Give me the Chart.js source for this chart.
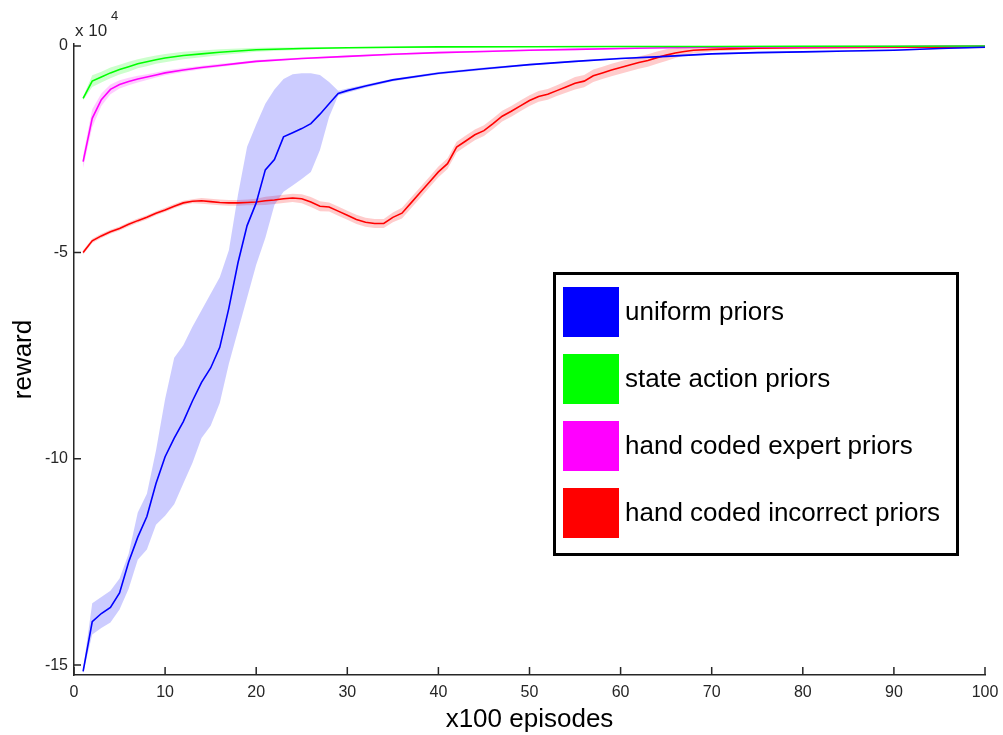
<!DOCTYPE html>
<html>
<head>
<meta charset="utf-8">
<script src="https://cdn.jsdelivr.net/npm/chart.js@4.4.1/dist/chart.umd.min.js"></script>
<style>
  html, body { margin: 0; padding: 0; background: #fff; }
  #wrap { width: 1003px; height: 735px; position: relative; }
</style>
</head>
<body>
<div id="wrap"><canvas id="c"></canvas></div>
<script>
// ---- data (reward in units of 1e4) ----
const seriesLabels = ['uniform priors', 'state action priors', 'hand coded expert priors', 'hand coded incorrect priors'];
const xTicks = [0, 10, 20, 30, 40, 50, 60, 70, 80, 90, 100];
const yTicks = [0, -5, -10, -15];

const blueX = [1,2,3,4,5,6,7,8,9,10,11,12,13,14,15,16,17,18,19,20,21,22,23,24,25,26,27,28,29,30,32,35,40,45,50,55,60,65,70,75,80,85,90,95,100];
const blueMean = [-15.15,-13.95,-13.75,-13.6,-13.25,-12.5,-11.9,-11.4,-10.6,-9.95,-9.5,-9.1,-8.6,-8.15,-7.8,-7.3,-6.35,-5.25,-4.35,-3.8,-3.0,-2.75,-2.2,-2.1,-2.0,-1.88,-1.65,-1.4,-1.15,-1.08,-0.97,-0.82,-0.66,-0.55,-0.45,-0.37,-0.3,-0.25,-0.19,-0.16,-0.14,-0.12,-0.1,-0.06,-0.03];
const blueUpper = [-15.1,-13.5,-13.35,-13.2,-12.9,-12.3,-11.3,-10.85,-9.8,-8.55,-7.55,-7.25,-6.8,-6.4,-6.0,-5.6,-4.95,-3.6,-2.44,-1.9,-1.4,-1.05,-0.8,-0.68,-0.66,-0.66,-0.7,-0.87,-1.08,-1.03,-0.93,-0.79,-0.63,-0.52,-0.43,-0.35,-0.28,-0.23,-0.17,-0.14,-0.12,-0.1,-0.08,-0.04,-0.02];
const blueLower = [-15.2,-14.26,-14.1,-13.97,-13.65,-13.15,-12.45,-12.2,-11.6,-11.38,-11.1,-10.6,-10.1,-9.5,-9.2,-8.65,-7.7,-6.9,-6.1,-5.3,-4.65,-3.85,-3.53,-3.38,-3.22,-3.05,-2.52,-1.72,-1.2,-1.13,-1.01,-0.85,-0.69,-0.58,-0.47,-0.39,-0.32,-0.27,-0.21,-0.18,-0.16,-0.14,-0.12,-0.08,-0.04];

const greenX = [1,2,3,4,5,6,7,8,9,10,12,14,16,18,20,25,30,35,40,50,60,70,80,90,100];
const greenMean = [-1.27,-0.85,-0.75,-0.65,-0.57,-0.5,-0.43,-0.38,-0.33,-0.29,-0.23,-0.19,-0.15,-0.12,-0.09,-0.06,-0.04,-0.03,-0.02,-0.015,-0.01,-0.01,-0.005,-0.005,0];
const greenErr = [0.04,0.14,0.13,0.13,0.12,0.12,0.11,0.11,0.1,0.1,0.09,0.08,0.07,0.06,0.05,0.03,0.02,0.02,0.02,0.01,0.01,0.01,0.01,0.01,0.01];

const magX = [1,2,3,4,5,6,7,8,9,10,12,14,16,18,20,25,30,35,40,45,50,55,60,65,70,80,90,100];
const magMean = [-2.8,-1.75,-1.3,-1.05,-0.93,-0.86,-0.8,-0.75,-0.7,-0.65,-0.58,-0.52,-0.47,-0.42,-0.37,-0.3,-0.25,-0.2,-0.16,-0.13,-0.1,-0.08,-0.06,-0.04,-0.03,-0.02,-0.01,0];
const magErr = [0.15,0.22,0.15,0.12,0.1,0.09,0.08,0.07,0.06,0.06,0.05,0.04,0.04,0.03,0.03,0.02,0.02,0.02,0.02,0.02,0.02,0.02,0.02,0.02,0.01,0.01,0.01,0.01];

const redX = [1,2,3,4,5,6,7,8,9,10,11,12,13,14,15,16,17,18,19,20,21,22,23,24,25,26,27,28,29,30,31,32,33,34,35,36,37,38,39,40,41,42,43,44,45,46,47,48,49,50,51,52,53,54,55,56,57,58,59,60,61,62,63,64,65,66,67,68,70,75,80,85,90,95,100];
const redMean = [-5.0,-4.72,-4.6,-4.5,-4.42,-4.32,-4.23,-4.15,-4.05,-3.97,-3.88,-3.8,-3.76,-3.75,-3.77,-3.79,-3.8,-3.8,-3.79,-3.78,-3.75,-3.73,-3.7,-3.68,-3.7,-3.78,-3.88,-3.9,-4.0,-4.1,-4.2,-4.27,-4.3,-4.3,-4.15,-4.05,-3.8,-3.55,-3.3,-3.05,-2.85,-2.45,-2.3,-2.15,-2.05,-1.88,-1.7,-1.58,-1.45,-1.32,-1.22,-1.17,-1.08,-0.99,-0.9,-0.85,-0.72,-0.65,-0.58,-0.52,-0.46,-0.4,-0.35,-0.28,-0.22,-0.17,-0.13,-0.1,-0.08,-0.05,-0.04,-0.035,-0.03,-0.025,-0.02];
const redErr = [0.05,0.05,0.05,0.05,0.05,0.05,0.05,0.05,0.05,0.05,0.05,0.05,0.05,0.07,0.07,0.07,0.07,0.07,0.07,0.08,0.1,0.1,0.1,0.1,0.11,0.12,0.12,0.11,0.11,0.11,0.11,0.11,0.11,0.11,0.12,0.13,0.13,0.13,0.13,0.13,0.13,0.13,0.13,0.13,0.13,0.13,0.13,0.13,0.13,0.13,0.13,0.13,0.13,0.14,0.15,0.15,0.15,0.15,0.15,0.15,0.15,0.15,0.15,0.15,0.14,0.12,0.1,0.08,0.05,0.03,0.03,0.03,0.03,0.03,0.03];

// ---- build datasets ----
function pts(xs, ys) { return xs.map((x, i) => ({ x: x, y: ys[i] })); }
function bandSets(xs, lo, hi, fillColor) {
  return [
    { data: pts(xs, lo), borderWidth: 0, pointRadius: 0, fill: false, order: 5, borderColor: 'rgba(0,0,0,0)' },
    { data: pts(xs, hi), borderWidth: 0, pointRadius: 0, fill: '-1', backgroundColor: fillColor, order: 5, borderColor: 'rgba(0,0,0,0)' }
  ];
}
function lineSet(label, xs, ys, color) {
  return { label: label, data: pts(xs, ys), borderColor: color, backgroundColor: color, borderWidth: 1.6, pointRadius: 0, fill: false, tension: 0, order: 1 };
}
const sym = (m, e, s) => m.map((v, i) => v + s * e[i]);

const colors = ['#0000ff', '#00ff00', '#ff00ff', '#ff0000'];
const datasets = [].concat(
  bandSets(blueX, blueLower, blueUpper, 'rgba(0,0,255,0.2)'),
  bandSets(greenX, sym(greenMean, greenErr, -1), sym(greenMean, greenErr, 1), 'rgba(0,255,0,0.2)'),
  bandSets(magX, sym(magMean, magErr, -1), sym(magMean, magErr, 1), 'rgba(255,0,255,0.2)'),
  bandSets(redX, sym(redMean, redErr, -1), sym(redMean, redErr, 1), 'rgba(255,0,0,0.2)'),
  [
    lineSet(seriesLabels[0], blueX, blueMean, colors[0]),
    lineSet(seriesLabels[1], greenX, greenMean, colors[1]),
    lineSet(seriesLabels[2], magX, magMean, colors[2]),
    lineSet(seriesLabels[3], redX, redMean, colors[3])
  ]
);

const AXIS = '#262626';
const FONT = '"Liberation Sans", Arial, Helvetica, sans-serif';

const decor = {
  id: 'decor',
  afterDraw(chart) {
    const ctx = chart.ctx;
    const xs = chart.scales.x, ys = chart.scales.y;
    const ca = chart.chartArea;
    ctx.save();
    // inward ticks
    ctx.strokeStyle = AXIS;
    ctx.lineWidth = 1.5;
    ctx.beginPath();
    xTicks.forEach(v => {
      const px = xs.getPixelForValue(v);
      ctx.moveTo(px, ca.bottom);
      ctx.lineTo(px, ca.bottom - 8);
    });
    yTicks.forEach(v => {
      const py = ys.getPixelForValue(v);
      ctx.moveTo(ca.left, py);
      ctx.lineTo(ca.left + 7, py);
    });
    ctx.stroke();
    // exponent label
    ctx.fillStyle = AXIS;
    ctx.textBaseline = 'alphabetic';
    ctx.textAlign = 'left';
    ctx.font = '17px ' + FONT;
    ctx.fillText('x 10', 75, 36);
    ctx.font = '13px ' + FONT;
    ctx.fillText('4', 111, 20);
    // legend
    const L = 554, T = 273, W = 403, H = 281;
    ctx.fillStyle = '#fff';
    ctx.fillRect(L, T, W, H);
    ctx.strokeStyle = '#000';
    ctx.lineWidth = 3;
    ctx.strokeRect(L + 0.5, T + 0.5, W, H);
    ctx.font = '26px ' + FONT;
    ctx.textBaseline = 'middle';
    seriesLabels.forEach((lab, i) => {
      const top = 287 + i * 67;
      ctx.fillStyle = colors[i];
      ctx.fillRect(563, top, 56, 50);
      ctx.fillStyle = '#000';
      ctx.fillText(lab, 625, top + 26);
    });
    ctx.restore();
  }
};

new Chart(document.getElementById('c'), {
  type: 'line',
  data: { datasets: datasets },
  plugins: [decor],
  options: {
    responsive: true,
    maintainAspectRatio: false,
    animation: false,
    devicePixelRatio: 1,
    layout: { padding: { top: 44, right: 18, left: 0, bottom: 0 } },
    plugins: { legend: { display: false }, tooltip: { enabled: false } },
    elements: { line: { tension: 0 } },
    scales: {
      x: {
        type: 'linear', min: 0, max: 100,
        afterFit(s) { s.height = 60; s.paddingLeft = 0; s.paddingRight = 0; },
        afterBuildTicks(s) { s.ticks = xTicks.map(v => ({ value: v })); },
        grid: { display: false, drawTicks: false },
        border: { display: true, color: AXIS, width: 1.5 },
        ticks: { color: AXIS, font: { size: 16, family: FONT }, padding: 8, maxRotation: 0, autoSkip: false, callback: v => String(v) },
        title: { display: true, text: 'x100 episodes', color: '#000', font: { size: 26, family: FONT }, padding: { top: 0, bottom: 0 } }
      },
      y: {
        type: 'linear', min: -15.24, max: 0.05,
        afterFit(s) { s.width = 74; s.paddingTop = 0; s.paddingBottom = 0; },
        afterBuildTicks(s) { s.ticks = yTicks.map(v => ({ value: v })); },
        grid: { display: false, drawTicks: false },
        border: { display: true, color: AXIS, width: 1.5 },
        ticks: { color: AXIS, font: { size: 16, family: FONT }, padding: 6, autoSkip: false, callback: v => String(v) },
        title: { display: true, text: 'reward', color: '#000', font: { size: 26, family: FONT }, padding: { top: 8, bottom: 0 } }
      }
    }
  }
});
</script>
</body>
</html>
